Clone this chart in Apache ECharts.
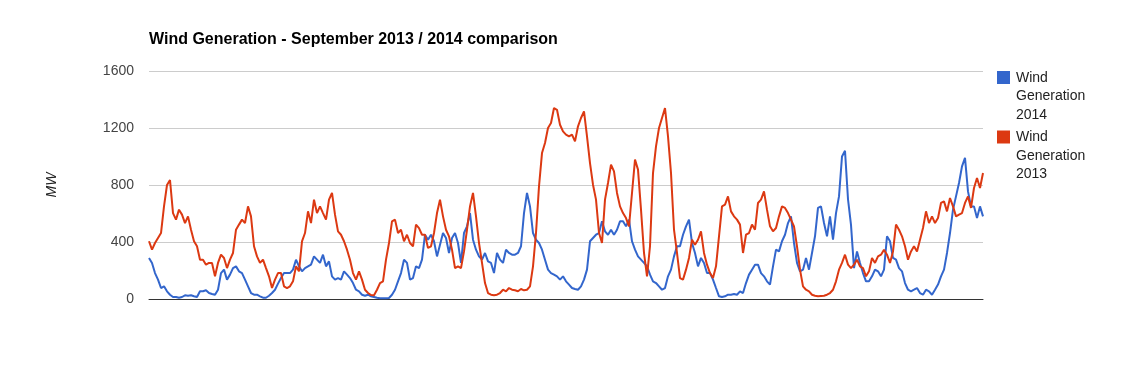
<!DOCTYPE html>
<html>
<head>
<meta charset="utf-8">
<script src="https://cdn.jsdelivr.net/npm/echarts@6/dist/echarts.min.js"></script>
<style>
html,body{margin:0;padding:0;background:#fff;}
#chart{width:1131px;height:371px;}
</style>
</head>
<body>
<div id="chart"></div>
<script>
const chartTitle = 'Wind Generation - September 2013 / 2014 comparison';
const yAxisName = 'MW';
const yTicks = [0, 400, 800, 1200, 1600];
const seriesNames = ['Wind Generation 2014', 'Wind Generation 2013'];

const wind2014 = [
  288,253,182,136,77,89,54,30,14,14,9,14,26,23,26,19,14,54,54,61,42,35,30,65,182,206,136,171,217,229,194,182,136,89,42,30,30,19,9,9,23,42,65,108,147,182,182,
  182,206,276,229,194,217,229,241,299,276,253,311,229,264,159,136,147,136,194,171,147,112,65,54,30,23,30,19,14,9,5,5,5,7,30,65,124,182,276,253,136,147,229,217,276,451,416,
  451,405,299,381,463,428,323,428,463,393,253,463,510,603,416,346,299,276,323,264,253,182,323,276,253,346,323,311,311,323,370,603,744,650,463,416,393,346,276,206,182,171,159,136,159,124,
  101,77,70,65,89,136,206,405,428,451,463,545,475,451,486,451,486,545,545,510,557,405,346,299,276,253,229,171,124,112,89,65,77,159,206,299,370,370,451,510,557,393,323,229,288,253,182,
  182,136,77,19,14,19,30,30,35,30,54,42,112,171,206,241,241,182,159,124,101,229,346,334,405,451,533,580,393,253,194,206,288,206,323,440,639,650,533,440,580,416,603,720,1000,1040,700,
  520,217,334,253,182,124,124,159,206,194,159,206,440,405,288,276,217,194,112,65,54,65,77,42,30,65,54,30,65,101,159,206,323,463,627,720,814,931,990,755,650,650,568,650,580
];

const wind2013 = [
  405,346,393,428,463,650,800,835,603,557,627,592,533,580,486,405,370,276,276,241,253,253,159,253,311,288,217,276,323,486,522,557,533,650,580,370,299,253,276,217,159,77,136,182,182,89,77,
  89,124,229,194,405,463,615,533,697,603,650,603,557,697,744,592,475,451,405,346,276,182,136,194,136,65,42,28,26,65,112,124,276,393,545,557,463,486,405,451,393,370,522,498,451,451,358,
  370,463,603,697,580,486,440,346,217,229,217,334,486,650,744,580,393,253,112,42,30,26,30,42,65,54,77,65,61,54,70,61,65,89,229,463,790,1024,1095,1200,1235,1340,1328,1223,1176,1153,
  1141,1153,1106,1212,1270,1317,1141,954,802,697,463,393,697,814,943,896,744,650,603,568,510,744,978,908,627,323,159,370,884,1071,1200,1270,1340,1141,884,486,323,147,136,206,288,416,381,416,475,323,241,
  182,147,229,440,650,662,720,615,580,557,522,323,451,463,522,486,674,697,755,627,510,475,498,580,650,639,603,557,510,370,206,89,65,54,30,23,19,21,23,30,42,65,124,206,253,311,241,
  217,241,276,229,217,159,194,288,253,299,311,346,311,253,334,522,486,440,370,276,334,370,334,416,498,615,533,580,533,568,674,685,615,709,650,580,592,603,674,720,639,779,849,779,884
];

const samples = wind2014.map((_, i) => String(i + 1));
const colors = ['#3366cc', '#dc3912'];

const chart = echarts.init(document.getElementById('chart'), null, {renderer: 'canvas'});
const font = 'Arial, "Liberation Sans", sans-serif';

chart.setOption({
  animation: false,
  backgroundColor: '#ffffff',
  title: {
    text: chartTitle,
    left: 144,
    top: 27,
    textStyle: {fontFamily: font, fontSize: 16, fontWeight: 'bold', color: '#000'}
  },
  grid: {left: 149, right: 148, top: 71, bottom: 72, containLabel: false},
  xAxis: {
    type: 'category',
    data: samples,
    boundaryGap: false,
    axisLine: {show: true, onZero: false, lineStyle: {color: '#333', width: 1}},
    axisTick: {show: false},
    axisLabel: {show: false},
    splitLine: {show: false}
  },
  yAxis: {
    type: 'value',
    min: yTicks[0],
    max: yTicks[yTicks.length - 1],
    interval: 400,
    axisLine: {show: false},
    axisTick: {show: false},
    axisLabel: {margin: 15, fontFamily: font, fontSize: 14, color: '#444', formatter: (v) => String(v)},
    splitLine: {lineStyle: {color: '#cccccc', width: 1}}
  },
  graphic: [
    {type: 'text', x: 52, y: 185, rotation: Math.PI / 2,
     style: {text: yAxisName, fontFamily: font, fontSize: 14, fontStyle: 'italic', fill: '#222', align: 'center', verticalAlign: 'middle'}},
    {type: 'rect', shape: {x: 997, y: 71, width: 13, height: 13}, style: {fill: colors[0]}},
    {type: 'text', x: 1016, y: 68.5,
     style: {text: seriesNames[0].split(' ').join('\n'), fontFamily: font, fontSize: 14, lineHeight: 18.5, fill: '#222', align: 'left', verticalAlign: 'top'}},
    {type: 'rect', shape: {x: 997, y: 130.5, width: 13, height: 13}, style: {fill: colors[1]}},
    {type: 'text', x: 1016, y: 128,
     style: {text: seriesNames[1].split(' ').join('\n'), fontFamily: font, fontSize: 14, lineHeight: 18.5, fill: '#222', align: 'left', verticalAlign: 'top'}}
  ],
  series: [
    {name: seriesNames[0], type: 'line', data: wind2014, symbol: 'none', color: colors[0],
     lineStyle: {width: 2, color: colors[0]}, z: 2},
    {name: seriesNames[1], type: 'line', data: wind2013, symbol: 'none', color: colors[1],
     lineStyle: {width: 2, color: colors[1]}, z: 3}
  ]
});
</script>
</body>
</html>
